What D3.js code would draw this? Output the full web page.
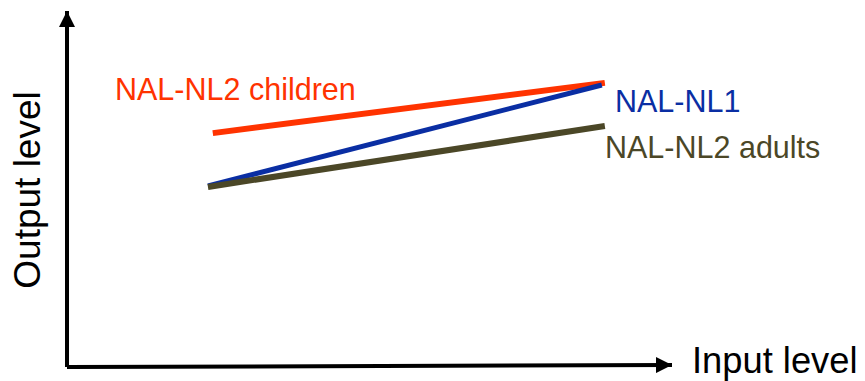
<!DOCTYPE html>
<html>
<head>
<meta charset="utf-8">
<script src="https://cdn.jsdelivr.net/npm/d3@7"></script>
<style>
  html, body { margin: 0; padding: 0; background: #fff; }
  svg { display: block; }
  text { font-family: "Liberation Sans", Arial, sans-serif; }
</style>
</head>
<body>
<svg id="chart" width="865" height="381"></svg>
<script>
// ---- data (arbitrary 0-100 units on both axes) ----
const seriesNames = ["NAL-NL2 children", "NAL-NL1", "NAL-NL2 adults"];
const seriesColors = ["#ff3300", "#0a2ea3", "#4b4727"];
const inputChildren = [24.1, 88.9];
const outputChildren = [65.5, 79.7];
const inputNL1 = [23.3, 88.4];
const outputNL1 = [50.6, 79.1];
const inputAdults = [23.3, 88.9];
const outputAdults = [50.3, 67.5];
const axisTitles = ["Input level", "Output level"];

const svg = d3.select("#chart");
const x0 = 67, x1 = 672, y0 = 365, y1 = 11;
const x = d3.scaleLinear().domain([0, 100]).range([x0, x1]);
const y = d3.scaleLinear().domain([0, 100]).range([y0, y1]);

// arrow marker
const defs = svg.append("defs");
defs.append("marker")
  .attr("id", "arrow")
  .attr("viewBox", "0 0 10 10")
  .attr("refX", 10).attr("refY", 5)
  .attr("markerUnits", "userSpaceOnUse")
  .attr("markerWidth", 16).attr("markerHeight", 16)
  .attr("orient", "auto")
  .append("path").attr("d", "M0,0 L10,5 L0,10 Z").attr("fill", "#000");

// axes (no ticks) drawn as arrowed lines
svg.append("line")
  .attr("x1", x(0)).attr("y1", y(0) + 2)
  .attr("x2", x(100)).attr("y2", y(0))
  .attr("stroke", "#000").attr("stroke-width", 4)
  .attr("marker-end", "url(#arrow)");
svg.append("line")
  .attr("x1", x(0)).attr("y1", y(0) + 2)
  .attr("x2", x(0)).attr("y2", y(100))
  .attr("stroke", "#000").attr("stroke-width", 4)
  .attr("marker-end", "url(#arrow)");

// series
const series = [
  { name: seriesNames[0], color: seriesColors[0], xs: inputChildren, ys: outputChildren, w: 6 },
  { name: seriesNames[1], color: seriesColors[1], xs: inputNL1, ys: outputNL1, w: 5 },
  { name: seriesNames[2], color: seriesColors[2], xs: inputAdults, ys: outputAdults, w: 6 }
];
const line = d3.line().x(d => x(d[0])).y(d => y(d[1]));
series.forEach(s => {
  svg.append("path")
    .datum(d3.zip(s.xs, s.ys))
    .attr("d", line)
    .attr("fill", "none")
    .attr("stroke", s.color)
    .attr("stroke-width", s.w);
});

// series labels
const labelSize = 30.5;
svg.append("text").attr("x", 115).attr("y", 100)
  .attr("font-size", labelSize).attr("fill", seriesColors[0]).text(seriesNames[0]);
svg.append("text").attr("x", 615).attr("y", 112)
  .attr("font-size", labelSize).attr("fill", seriesColors[1]).text(seriesNames[1]);
svg.append("text").attr("x", 605).attr("y", 158)
  .attr("font-size", labelSize).attr("fill", seriesColors[2]).text(seriesNames[2]);

// axis titles
svg.append("text").attr("x", 692).attr("y", 373)
  .attr("font-size", 36.3).attr("fill", "#000").text(axisTitles[0]);
svg.append("text")
  .attr("transform", "translate(40,190) rotate(-90)")
  .attr("text-anchor", "middle")
  .attr("font-size", 37).attr("fill", "#000").text(axisTitles[1]);
</script>
</body>
</html>
